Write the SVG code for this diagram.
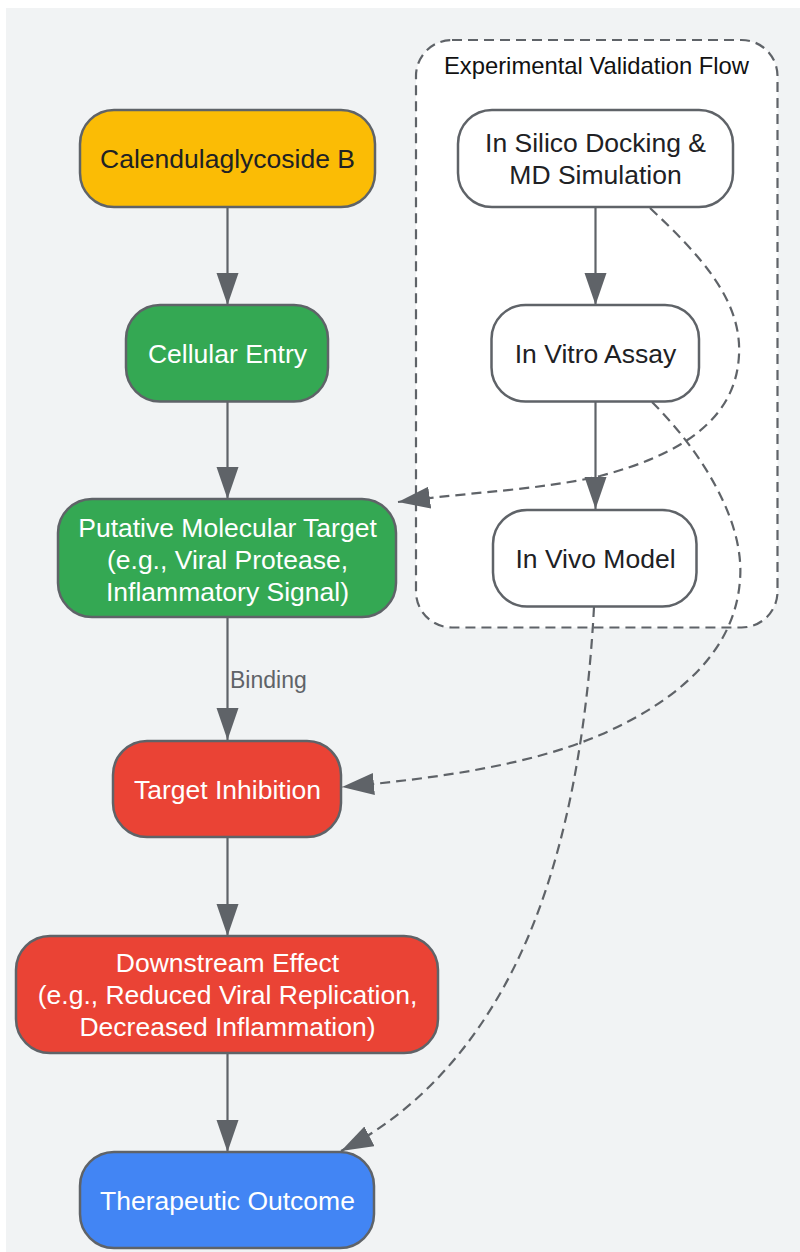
<svg xmlns="http://www.w3.org/2000/svg" width="800" height="1252" viewBox="0 0 800 1252">
<defs>
<style>
.n{stroke:#5f6368;stroke-width:2.5}
.t{font-family:"Liberation Sans",Arial,sans-serif;font-size:26.5px;text-anchor:middle}
.w{fill:#ffffff}
.d{fill:#202124}
.e{fill:none;stroke:#5f6368;stroke-width:2.2}
.dash{stroke-dasharray:10,6}
</style>
<marker id="ah" markerUnits="userSpaceOnUse" markerWidth="34" markerHeight="24" refX="32" refY="11" orient="auto">
<path d="M0,0 L32,11 L0,22 z" fill="#5f6368"/>
</marker>
</defs>
<rect x="6" y="8" width="794" height="1244" fill="#f1f3f4"/>
<g id="cluster">
<rect x="416" y="40" width="361.5" height="587.5" rx="36" fill="#ffffff" stroke="#5f6368" stroke-width="2.2" stroke-dasharray="10,6"/>
<text x="596.5" y="74" font-family="Liberation Sans,Arial,sans-serif" font-size="23.8" text-anchor="middle" fill="#111111">Experimental Validation Flow</text>
</g>
<g id="connectors">
<path class="e" d="M227.5,208 L227.5,305" marker-end="url(#ah)"/>
<path class="e" d="M227.5,402 L227.5,499" marker-end="url(#ah)"/>
<path class="e" d="M227.5,618 L227.5,740" marker-end="url(#ah)"/>
<path class="e" d="M227.5,838 L227.5,936" marker-end="url(#ah)"/>
<path class="e" d="M227.5,1054 L227.5,1152" marker-end="url(#ah)"/>
<path class="e" d="M595.5,208 L595.5,305" marker-end="url(#ah)"/>
<path class="e" d="M595.5,402 L595.5,509" marker-end="url(#ah)"/>
<path class="e dash" d="M650,208 C700,255 742,300 739,355 C736,420 680,455 600,476 C540,490 470,492 398,502" marker-end="url(#ah)"/>
<path class="e dash" d="M652,402 C700,450 745,520 740,580 C735,650 680,700 600,735 C530,765 440,778 342,787" marker-end="url(#ah)"/>
<path class="e dash" d="M594,607 C588,720 570,830 535,920 C500,1010 440,1100 341,1151" marker-end="url(#ah)"/>
<text x="230" y="688" font-family="Liberation Sans,Arial,sans-serif" font-size="23" fill="#5f6368">Binding</text>
</g>
<g id="calendula">
<rect class="n" x="80" y="110" width="295" height="97" rx="34" fill="#fbbc05"/>
<text class="t d" x="227.5" y="168">Calendulaglycoside B</text>
</g>
<g id="entry">
<rect class="n" x="126" y="305" width="202" height="96.5" rx="34" fill="#34a853"/>
<text class="t w" x="227.5" y="363">Cellular Entry</text>
</g>
<g id="target">
<rect class="n" x="58" y="499" width="338" height="118" rx="34" fill="#34a853"/>
<text class="t w" x="227.5" y="536.5">Putative Molecular Target</text>
<text class="t w" x="227.5" y="568.5">(e.g., Viral Protease,</text>
<text class="t w" x="227.5" y="600.5">Inflammatory Signal)</text>
</g>
<g id="inhibition">
<rect class="n" x="113" y="741" width="228" height="96" rx="34" fill="#ea4335"/>
<text class="t w" x="227.5" y="798.5">Target Inhibition</text>
</g>
<g id="downstream">
<rect class="n" x="16" y="936" width="422" height="117" rx="34" fill="#ea4335"/>
<text class="t w" x="227.5" y="972">Downstream Effect</text>
<text class="t w" x="227.5" y="1004">(e.g., Reduced Viral Replication,</text>
<text class="t w" x="227.5" y="1036">Decreased Inflammation)</text>
</g>
<g id="outcome">
<rect class="n" x="80" y="1152" width="294" height="96" rx="34" fill="#4285f4"/>
<text class="t w" x="227.5" y="1210">Therapeutic Outcome</text>
</g>
<g id="silico">
<rect class="n" x="458" y="110" width="275" height="97" rx="34" fill="#ffffff"/>
<text class="t d" x="595.5" y="152">In Silico Docking &amp;</text>
<text class="t d" x="595.5" y="184">MD Simulation</text>
</g>
<g id="vitro">
<rect class="n" x="491.5" y="305" width="207.5" height="96.5" rx="34" fill="#ffffff"/>
<text class="t d" x="595.5" y="363">In Vitro Assay</text>
</g>
<g id="vivo">
<rect class="n" x="493" y="510" width="203.5" height="96.5" rx="34" fill="#ffffff"/>
<text class="t d" x="595.5" y="568">In Vivo Model</text>
</g>
</svg>
